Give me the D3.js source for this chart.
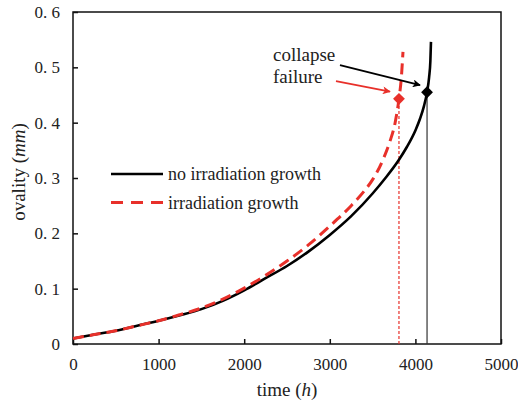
<!DOCTYPE html>
<html>
<head>
<meta charset="utf-8">
<script src="https://cdn.jsdelivr.net/npm/d3@7"></script>
<style>
  body { margin: 0; background: #fff; }
  svg text { font-family: "Liberation Serif", "Times New Roman", serif !important; fill: #222; }
</style>
</head>
<body>
<svg id="chart" width="518" height="405"></svg>
<script>
// Data
const timeNoGrowth = [0, 250, 500, 750, 1000, 1250, 1500, 1750, 2000, 2250, 2500, 2750, 3000, 3250, 3500, 3650, 3808, 3900, 4000, 4054, 4100, 4136, 4160, 4175, 4182];
const ovalNoGrowth = [0.010, 0.017, 0.024, 0.033, 0.042, 0.052, 0.063, 0.078, 0.097, 0.119, 0.141, 0.167, 0.197, 0.231, 0.272, 0.300, 0.333, 0.356, 0.386, 0.407, 0.430, 0.455, 0.482, 0.512, 0.546];

const timeGrowth = [0, 250, 500, 750, 1000, 1250, 1500, 1750, 2000, 2250, 2500, 2750, 3000, 3250, 3400, 3500, 3621, 3700, 3762, 3808, 3835, 3855];
const ovalGrowth = [0.010, 0.017, 0.024, 0.033, 0.042, 0.053, 0.065, 0.081, 0.101, 0.124, 0.150, 0.179, 0.213, 0.250, 0.276, 0.297, 0.333, 0.365, 0.399, 0.443, 0.480, 0.528];

// collapse points
const failTime = [4136, 3808];
const failOval = [0.455, 0.443];

const xTicks = [0, 1000, 2000, 3000, 4000, 5000];
const yTicks = [0, 0.1, 0.2, 0.3, 0.4, 0.5, 0.6];
const yTickLabels = ["0", "0. 1", "0. 2", "0. 3", "0. 4", "0. 5", "0. 6"];

const seriesNames = ["no irradiation growth", "irradiation growth"];

const RED = "#e8302a";
const FONT = '"Liberation Serif", "Times New Roman", serif';

const svg = d3.select("#chart");
const margin = {top: 12, right: 17, bottom: 61, left: 73};
const innerW = 518 - margin.left - margin.right;
const innerH = 405 - margin.top - margin.bottom;

const g = svg.append("g").attr("transform", `translate(${margin.left},${margin.top})`);

const x = d3.scaleLinear().domain([0, 5000]).range([0, innerW]);
const y = d3.scaleLinear().domain([0, 0.6]).range([innerH, 0]);

// frame
g.append("rect")
  .attr("width", innerW).attr("height", innerH)
  .attr("fill", "none").attr("stroke", "#111").attr("stroke-width", 1.5);

// axes with inner ticks
const xAxis = g.append("g")
  .attr("transform", `translate(0,${innerH})`)
  .call(d3.axisBottom(x).tickValues(xTicks).tickSize(-5).tickPadding(14).tickFormat(d3.format("d")));
const yAxis = g.append("g")
  .call(d3.axisLeft(y).tickValues(yTicks).tickSize(-5).tickPadding(13).tickFormat((d, i) => yTickLabels[i]));

[xAxis, yAxis].forEach(a => {
  a.attr("font-family", null).attr("font-size", null);
  a.select(".domain").remove();
  a.selectAll(".tick line").attr("stroke", "#111").attr("stroke-width", 1.5);
  a.selectAll(".tick text").style("font-family", FONT).style("font-size", "17px").attr("fill", "#222");
});

// axis titles
g.append("text")
  .attr("x", innerW / 2).attr("y", innerH + 52)
  .attr("text-anchor", "middle").style("font-size", "19px")
  .html('time (<tspan font-style="italic">h</tspan>)');

g.append("text")
  .attr("transform", "rotate(-90)")
  .attr("x", -160).attr("y", -48)
  .attr("text-anchor", "middle").style("font-size", "19px")
  .html('ovality  (<tspan font-style="italic">mm</tspan>)');

// vertical drop lines
g.append("line")
  .attr("x1", x(failTime[0])).attr("x2", x(failTime[0]))
  .attr("y1", y(0)).attr("y2", y(failOval[0]))
  .attr("stroke", "#333").attr("stroke-width", 1.2);
g.append("line")
  .attr("x1", x(failTime[1])).attr("x2", x(failTime[1]))
  .attr("y1", y(0)).attr("y2", y(failOval[1]))
  .attr("stroke", RED).attr("stroke-width", 1.2).attr("stroke-dasharray", "3,2");

// curves
const line = d3.line().x(d => x(d[0])).y(d => y(d[1])).curve(d3.curveMonotoneX);

g.append("path")
  .datum(d3.zip(timeNoGrowth, ovalNoGrowth))
  .attr("d", line)
  .attr("fill", "none").attr("stroke", "#000").attr("stroke-width", 2.6);

g.append("path")
  .datum(d3.zip(timeGrowth, ovalGrowth))
  .attr("d", line)
  .attr("fill", "none").attr("stroke", RED).attr("stroke-width", 3)
  .attr("stroke-dasharray", "11,6");

// diamonds
const sym = d3.symbol(d3.symbolSquare, 70);
g.selectAll(".fail")
  .data(d3.zip(failTime, failOval, ["#000", RED]))
  .join("path")
  .attr("class", "fail")
  .attr("d", sym)
  .attr("transform", d => `translate(${x(d[0])},${y(d[1])}) rotate(45)`)
  .attr("fill", d => d[2]);

// annotation arrows
const defs = svg.append("defs");
[["ahBlack", "#000"], ["ahRed", RED]].forEach(([id, c]) => {
  defs.append("marker")
    .attr("id", id).attr("viewBox", "0 0 10 10")
    .attr("refX", 9).attr("refY", 5)
    .attr("markerWidth", 9).attr("markerHeight", 8)
    .attr("markerUnits", "userSpaceOnUse")
    .attr("orient", "auto")
    .append("path").attr("d", "M0,0 L10,5 L0,10 L2.5,5 Z").attr("fill", c);
});
const ann = [
  {from: [3119, 0.504], to: [4054, 0.468], c: "#000", m: "ahBlack"},
  {from: [3072, 0.475], to: [3703, 0.456], c: RED, m: "ahRed"}
];
ann.forEach(a => {
  g.append("line")
    .attr("x1", x(a.from[0])).attr("y1", y(a.from[1]))
    .attr("x2", x(a.to[0])).attr("y2", y(a.to[1]))
    .attr("stroke", a.c).attr("stroke-width", 1.8)
    .attr("marker-end", `url(#${a.m})`);
});

g.append("text").attr("x", x(2336)).attr("y", y(0.511)).style("font-size", "19px").text("collapse");
g.append("text").attr("x", x(2336)).attr("y", y(0.472)).style("font-size", "19px").text("failure");

// legend
const legend = g.append("g").attr("transform", "translate(38,162)");
const legendRows = legend.selectAll("g")
  .data(seriesNames)
  .join("g")
  .attr("transform", (d, i) => `translate(0,${i * 28.5})`);
legendRows.append("line")
  .attr("x1", 0).attr("x2", 52)
  .attr("stroke", (d, i) => i ? RED : "#000")
  .attr("stroke-width", (d, i) => i ? 3 : 2.6)
  .attr("stroke-dasharray", (d, i) => i ? "12,8" : null);
legendRows.append("text")
  .attr("x", 57).attr("y", 6)
  .style("font-size", "18px")
  .text(d => d);
</script>
</body>
</html>
